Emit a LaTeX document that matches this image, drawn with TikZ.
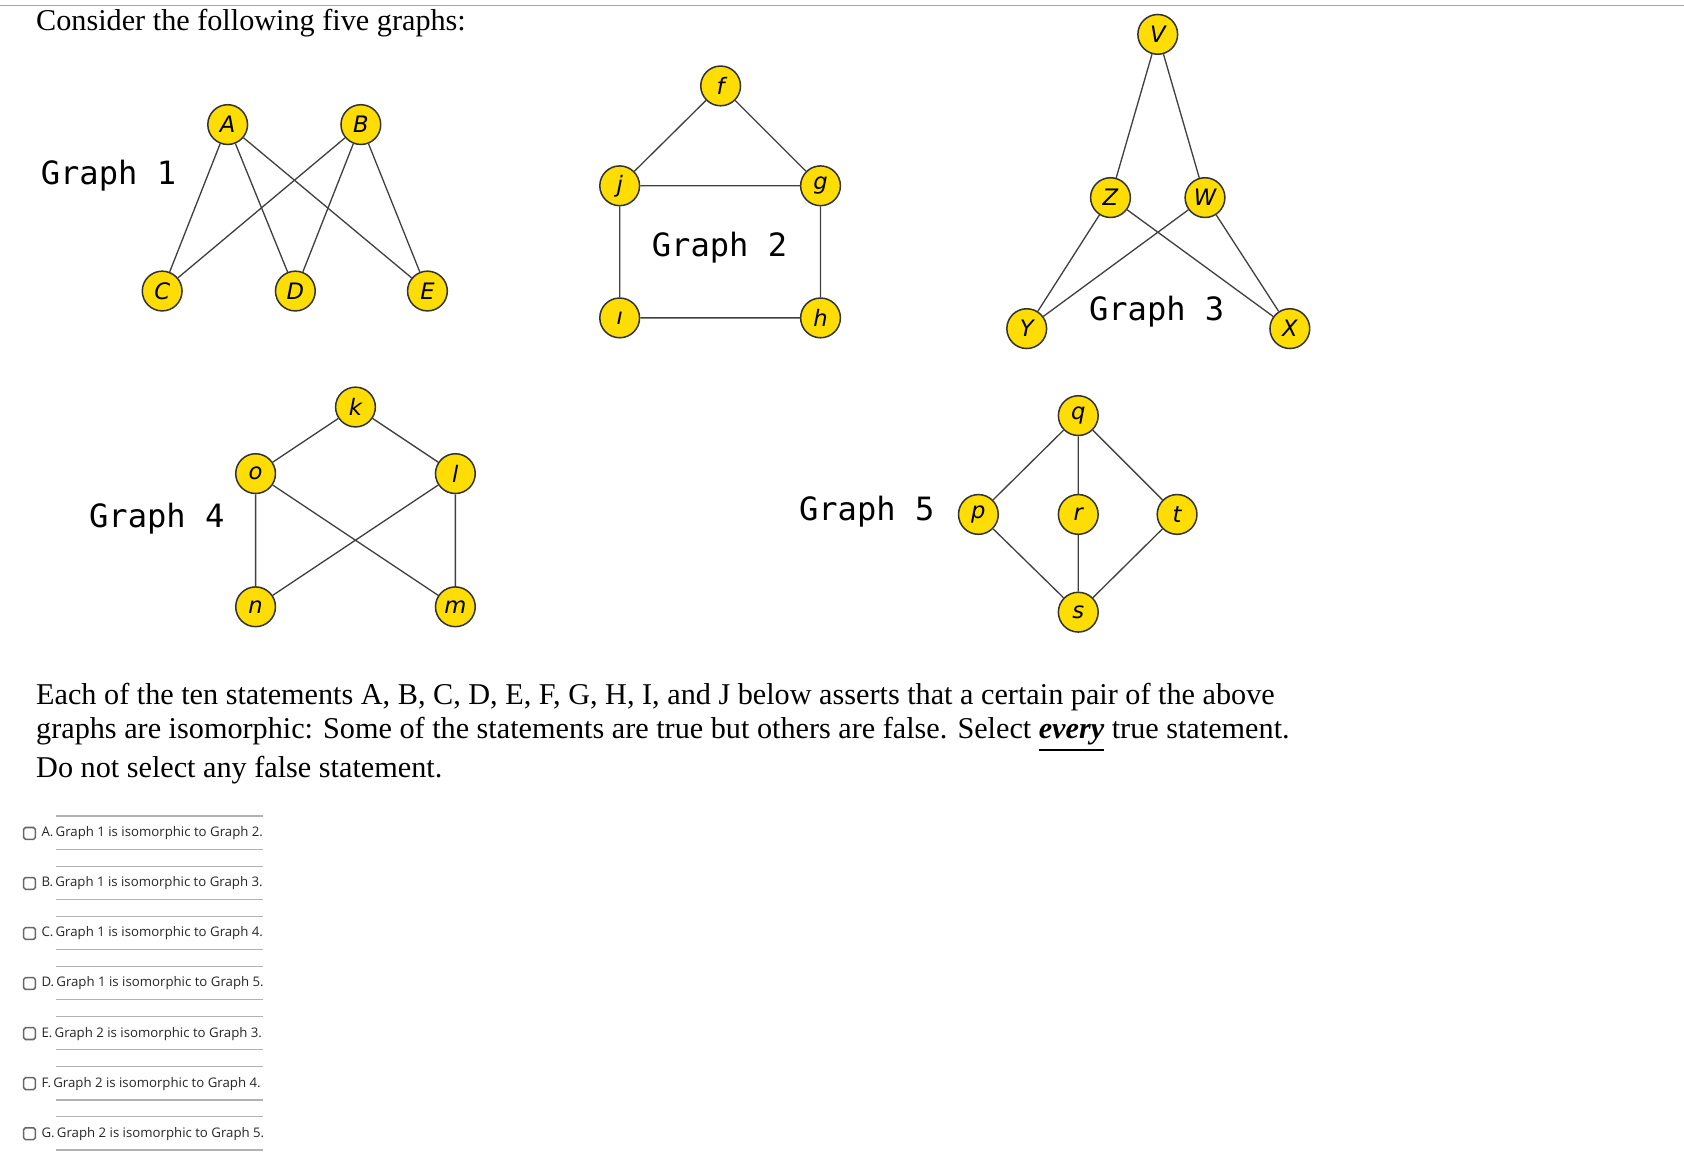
\documentclass[tikz,border=0pt]{standalone}
\usepackage{fontspec}
\setmainfont{Liberation Serif}
\newfontfamily\monofont{DejaVu Sans Mono}
\newfontfamily\nodefont{DejaVu Sans}
\newfontfamily\optfont{Open Sans}
\newcommand\ulword[1]{$\underline{\hbox{#1}}$}
\begin{document}
\begin{tikzpicture}[x=0.01cm,y=-0.01cm,
        vert/.style={circle,draw=black!80,fill=yellow!80!orange,minimum size=0.37cm,
            inner sep=0pt,font=\nodefont\itshape\fontsize{6}{6}\selectfont},
        glabel/.style={font=\monofont\fontsize{8.5}{9}\selectfont},
        edge/.style={draw=black!75,line width=0.35pt},
        rule/.style={draw=black!30,line width=0.4pt},
        option/.style={anchor=west,inner sep=0pt,font=\optfont\fontsize{3.5}{4}\selectfont,text=black!85}]
\useasboundingbox (0,0) rectangle (1568,1073);
\draw[draw=black!35] (0,5) -- (1568,5);
\node[anchor=base west,inner sep=0pt,font=\fontsize{8}{9}\selectfont] (intro) at (33,28) {Consider the following five graphs:};

% Graph 1
\node[glabel] (g1) at (101,164) {Graph 1};
\node[vert] (A) at (212,116) {A};
\node[vert] (B) at (336,116) {B};
\node[vert] (C) at (151,271) {C};
\node[vert] (D) at (275,271) {D};
\node[vert] (E) at (398,271) {E};
\foreach \u in {A,B}
    \foreach \v in {C,D,E}
        \draw[edge] (\u) -- (\v);

% Graph 2
\node[glabel] (g2) at (670,231) {Graph 2};
\node[vert] (f) at (671,80) {f};
\node[vert] (j) at (577,173) {j};
\node[vert] (g) at (764,173) {g};
\node[vert] (i) at (577,296) {ı};
\node[vert] (h) at (764,296) {h};
\draw[edge] (f) -- (j) (f) -- (g) (j) -- (g) (j) -- (i) (g) -- (h) (i) -- (h);

% Graph 3
\node[glabel] (g3) at (1077,290) {Graph 3};
\node[vert] (V) at (1078,32) {V};
\node[vert] (Z) at (1034,184) {Z};
\node[vert] (W) at (1122,184) {W};
\node[vert] (Y) at (956,306) {Y};
\node[vert] (X) at (1201,306) {X};
\draw[edge] (V) -- (Z) (V) -- (W) (Z) -- (Y) (Z) -- (X) (W) -- (Y) (W) -- (X);

% Graph 4
\node[glabel] (g4) at (146,483) {Graph 4};
\node[vert] (k) at (331,379) {k};
\node[vert] (o) at (238,441) {o};
\node[vert] (l) at (424,441) {l};
\node[vert] (n) at (238,565) {n};
\node[vert] (m) at (424,565) {m};
\draw[edge] (k) -- (o) (k) -- (l) (o) -- (n) (o) -- (m) (l) -- (n) (l) -- (m);

% Graph 5
\node[glabel] (g5) at (807,476) {Graph 5};
\node[vert] (q) at (1004,387) {q};
\node[vert] (p) at (911,479) {p};
\node[vert] (r) at (1004,479) {r};
\node[vert] (t) at (1096,479) {t};
\node[vert] (s) at (1004,570) {s};
\draw[edge] (q) -- (p) (q) -- (r) (q) -- (t) (p) -- (s) (r) -- (s) (t) -- (s);

\node[anchor=north west,inner sep=0pt,align=left,font=\fontsize{8}{9.1}\selectfont] (stmt) at (33,635)
    {Each of the ten statements A, B, C, D, E, F, G, H, I, and J below asserts that a certain pair of the above\\
     graphs are isomorphic: Some of the statements are true but others are false. Select \ulword{\textbf{\textit{every}}} true statement.\\
     Do not select any false statement.};

% options
\foreach \lt/\a/\b [count=\c from 0] in {A/1/2,B/1/3,C/1/4,D/1/5,E/2/3,F/2/4,G/2/5} {
    \pgfmathsetmacro\yy{776+46.6*\c}
    \draw[rule] (52,\yy-16) -- (245,\yy-16) (52,\yy+15) -- (245,\yy+15);
    \draw[black!60,rounded corners=0.5pt] (22,\yy-5.5) rectangle (33,\yy+5.5);
    \node[option] (opt\lt) at (38,\yy) {\lt.\,Graph \a{} is isomorphic to Graph \b.};
}
\end{tikzpicture}
\end{document}
